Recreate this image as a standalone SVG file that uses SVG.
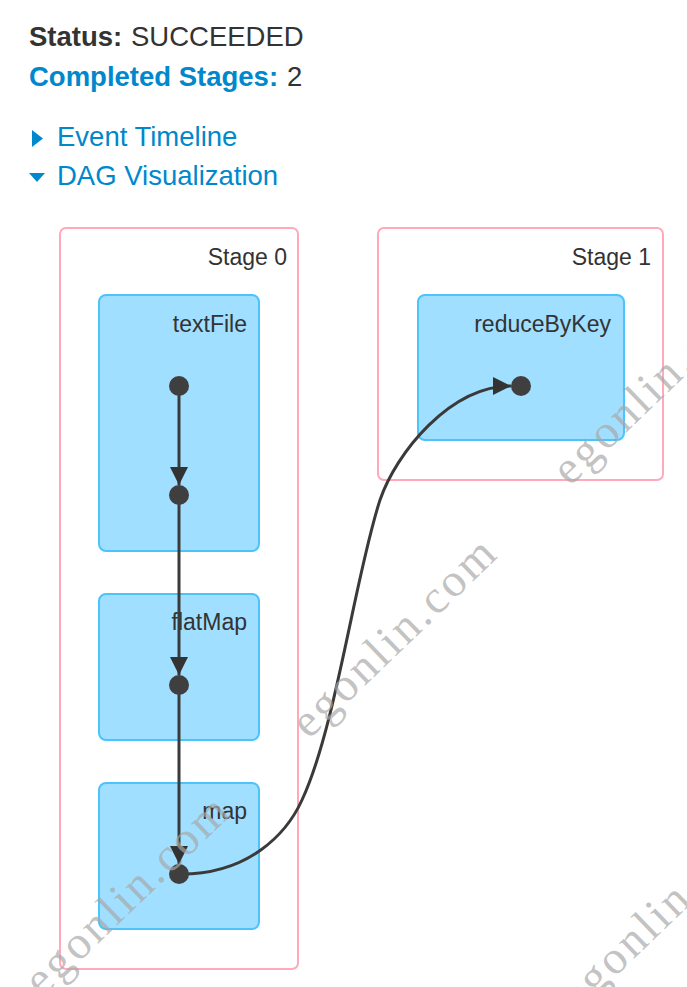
<svg xmlns="http://www.w3.org/2000/svg" width="687" height="987" viewBox="0 0 687 987">
<style>
  .hdr { font-family: "Liberation Sans", Arial, sans-serif; font-size: 27.5px; }
  .b { font-weight: bold; }
  .dark { fill: #333333; }
  .link { fill: #0088cc; }
  .lbl { font-family: "Liberation Sans", Arial, sans-serif; font-size: 23px; fill: #333333; text-anchor: end; }
  .stage { fill: #ffffff; stroke: #ffa9ba; stroke-width: 2; }
  .op { fill: #a0dfff; stroke: #4cc3fb; stroke-width: 2; }
  .dot { fill: #3f3f3f; }
  .edge { fill: none; stroke: #3a3a3a; stroke-width: 3; }
  .wm { font-family: "Liberation Serif", "Times New Roman", serif; font-size: 47px; letter-spacing: 3px; fill: #a8a8a8; fill-opacity: 0.7; }
</style>
<defs>
  <marker id="arr" markerUnits="userSpaceOnUse" markerWidth="18" markerHeight="18" refX="18" refY="9" orient="auto" viewBox="0 0 18 18">
    <path d="M0,0 L18,9 L0,18 z" fill="#333333"/>
  </marker>
</defs>
<rect width="687" height="987" fill="#ffffff"/>

<g id="header">
  <text class="hdr" x="29" y="46"><tspan class="b dark">Status:</tspan></text>
  <text class="hdr dark" x="131" y="46">SUCCEEDED</text>
  <text class="hdr b link" x="29" y="86">Completed Stages:</text>
  <text class="hdr dark" x="287" y="86">2</text>
  <polygon points="32,130 43,138.5 32,147" fill="#0088cc"/>
  <text class="hdr link" x="57" y="146">Event Timeline</text>
  <polygon points="29,173 45,173 37,182" fill="#0088cc"/>
  <text class="hdr link" x="57" y="185">DAG Visualization</text>
</g>

<g id="stage0">
  <rect class="stage" x="60" y="228" width="238" height="741" rx="6"/>
  <text class="lbl" x="287" y="265">Stage 0</text>
</g>
<g id="stage1">
  <rect class="stage" x="378" y="228" width="285" height="252" rx="6"/>
  <text class="lbl" x="651" y="265">Stage 1</text>
</g>

<g id="textFile">
  <rect class="op" x="99" y="295" width="160" height="256" rx="7"/>
  <text class="lbl" x="247" y="332">textFile</text>
</g>
<g id="flatMap">
  <rect class="op" x="99" y="594" width="160" height="146" rx="7"/>
  <text class="lbl" x="247" y="630">flatMap</text>
</g>
<g id="map">
  <rect class="op" x="99" y="783" width="160" height="146" rx="7"/>
  <text class="lbl" x="247" y="819">map</text>
</g>
<g id="reduceByKey">
  <rect class="op" x="418" y="295" width="206" height="145" rx="7"/>
  <text class="lbl" x="611" y="332">reduceByKey</text>
</g>

<g id="connectors">
  <path class="edge" d="M179,386 L179,485" marker-end="url(#arr)"/>
  <path class="edge" d="M179,495 L179,675" marker-end="url(#arr)"/>
  <path class="edge" d="M179,685 L179,864" marker-end="url(#arr)"/>
  <path class="edge" d="M179,874 C249,875 287,833 302,800 C336,727 355,576 380,500 C396,453 450,386 511,386" marker-end="url(#arr)"/>
</g>

<g id="dots">
  <circle class="dot" cx="179" cy="386" r="10"/>
  <circle class="dot" cx="179" cy="495" r="10"/>
  <circle class="dot" cx="179" cy="685" r="10"/>
  <circle class="dot" cx="179" cy="874" r="10"/>
  <circle class="dot" cx="521" cy="386" r="10"/>
</g>

<g id="watermarks">
  <text class="wm" transform="translate(42,998) rotate(-44)">egonlin.com</text>
  <text class="wm" transform="translate(309,740) rotate(-44)">egonlin.com</text>
  <text class="wm" transform="translate(570,487) rotate(-44)">egonlin.com</text>
  <text class="wm" transform="translate(578,1013) rotate(-44)">egonlin.com</text>
</g>
</svg>
